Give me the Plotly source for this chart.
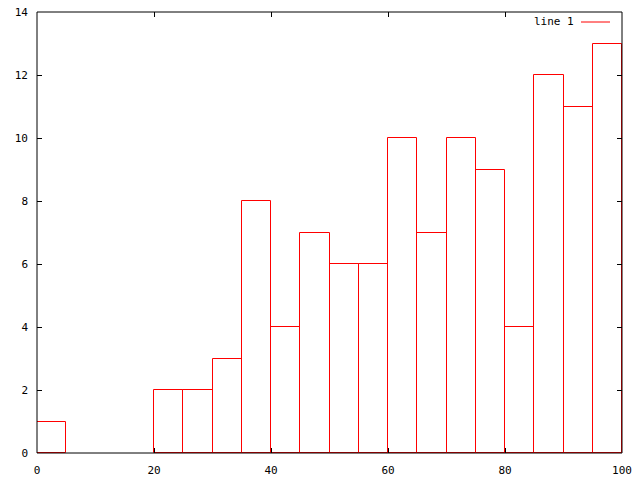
import plotly.graph_objects as go

bin_centers = [2.5, 7.5, 12.5, 17.5, 22.5, 27.5, 32.5, 37.5, 42.5, 47.5,
               52.5, 57.5, 62.5, 67.5, 72.5, 77.5, 82.5, 87.5, 92.5, 97.5]
counts = [1, 0, 0, 0, 2, 2, 3, 8, 4, 7, 6, 6, 10, 7, 10, 9, 4, 12, 11, 13]
x_ticks = [0, 20, 40, 60, 80, 100]
y_ticks = [0, 2, 4, 6, 8, 10, 12, 14]
series_name = "line 1"

W, H = 640, 480
L, R, T, B = 37, 18, 12, 27

line_colors = ["#ff0000" if c > 0 else "rgba(0,0,0,0)" for c in counts]

fig = go.Figure()
fig.add_trace(go.Bar(
    x=bin_centers, y=counts, width=5,
    marker=dict(color="rgba(0,0,0,0)", line=dict(color=line_colors, width=1)),
    showlegend=False,
))

font = dict(family="DejaVu Sans Mono, Liberation Mono, monospace", size=11, color="black")

axis_common = dict(
    showline=False, mirror="allticks",
    ticks="inside", ticklen=5, tickcolor="black", tickwidth=1,
    showgrid=False, zeroline=False, tickfont=font, automargin=False,
    layer="above traces",
)
fig.update_xaxes(range=[0, 100], tickvals=x_ticks, ticklabelstandoff=9, **axis_common)
fig.update_yaxes(range=[0, 14], tickvals=y_ticks, ticklabelstandoff=8, **axis_common)

# plot border drawn on top so that bar edges on the border are covered
fig.add_shape(type="rect", xref="paper", yref="paper", x0=0, x1=1, y0=0, y1=1,
              line=dict(color="black", width=1), layer="above")

pw = W - L - R
ph = H - T - B
def px(xp):
    return (xp - L) / pw
def py(yp):
    return 1 - (yp - T) / ph

fig.add_annotation(
    x=px(576), y=py(22), xref="paper", yref="paper",
    text=series_name, showarrow=False, xanchor="right", yanchor="middle",
    font=font,
)
fig.add_shape(
    type="line", xref="paper", yref="paper",
    x0=px(581), x1=px(610), y0=py(22), y1=py(22),
    line=dict(color="#ff0000", width=1),
)

fig.update_layout(
    width=W, height=H,
    margin=dict(l=L, r=R, t=T, b=B, pad=0, autoexpand=False),
    paper_bgcolor="white", plot_bgcolor="white",
    bargap=0, font=font,
)

fig.write_html("out.html", config={"displayModeBar": False},
               post_script="document.body.style.margin='0';document.body.style.padding='0';")
